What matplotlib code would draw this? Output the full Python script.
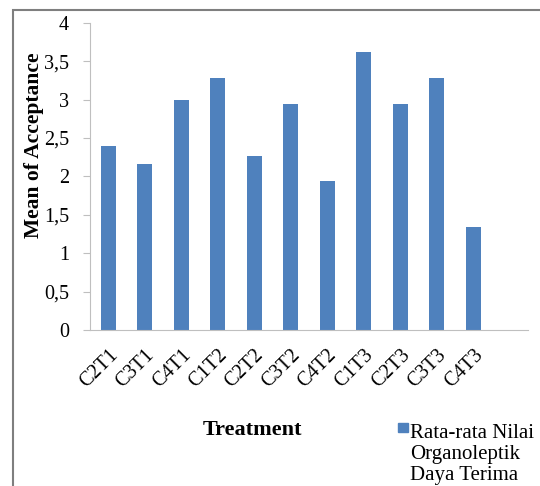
import matplotlib.pyplot as plt
from matplotlib.patches import Rectangle
from matplotlib.ticker import FuncFormatter

# DATA

treatments = ["C2T1", "C3T1", "C4T1", "C1T2", "C2T2", "C3T2",
              "C4T2", "C1T3", "C2T3", "C3T3", "C4T3"]
mean_acceptance = [2.40, 2.16, 3.00, 3.28, 2.26, 2.94,
                   1.94, 3.62, 2.94, 3.28, 1.34]
series_name = "Rata-rata Nilai\nOrganoleptik\nDaya Terima"

plt.rcParams["font.family"] = ["Liberation Serif", "DejaVu Serif"]

fig = plt.figure(figsize=(5.4, 4.86), dpi=100)
ax = fig.add_axes([0.1667, 0.321, 0.811, 0.632])

x = range(len(treatments))
ax.bar(x, mean_acceptance, width=0.42, color="#4F81BD")

ax.set_xlim(-0.5, len(treatments) + 0.5)
ax.set_ylim(0, 4)
ax.set_yticks([0, 0.5, 1, 1.5, 2, 2.5, 3, 3.5, 4])
ax.yaxis.set_major_formatter(FuncFormatter(lambda v, p: f"{v:g}".replace(".", ",")))
ax.set_xticks(list(x))
ax.set_xticklabels(treatments, rotation=45, ha="right", rotation_mode="anchor")
ax.tick_params(axis="x", length=0, pad=11, labelsize=14.5)
ax.tick_params(axis="y", length=5, color="#bfbfbf", labelsize=14.5, pad=10)

for s in ["top", "right"]:
    ax.spines[s].set_visible(False)
ax.spines["left"].set_color("#bfbfbf")
ax.spines["bottom"].set_color("#bfbfbf")

ax.set_ylabel("Mean of Acceptance", fontsize=15.5, fontweight="bold")
ax.yaxis.set_label_coords(-0.105, 0.6)

fig.text(0.467, 0.115, "Treatment", fontsize=16, fontweight="bold",
         ha="center", va="center")

# legend drawn by hand to keep the Excel look
fig.patches.append(Rectangle((0.737, 0.111), 0.019, 0.019, transform=fig.transFigure,
                             color="#4F81BD"))
fig.text(0.76, 0.128, series_name, fontsize=15, ha="left", va="top",
         linespacing=1.15)

# outer frame
fig.patches.append(Rectangle((0.024, -0.05), 1.2, 1.03, transform=fig.transFigure,
                             fill=False, edgecolor="#7f7f7f", linewidth=1.5))

fig.savefig("out.png", dpi=100)
